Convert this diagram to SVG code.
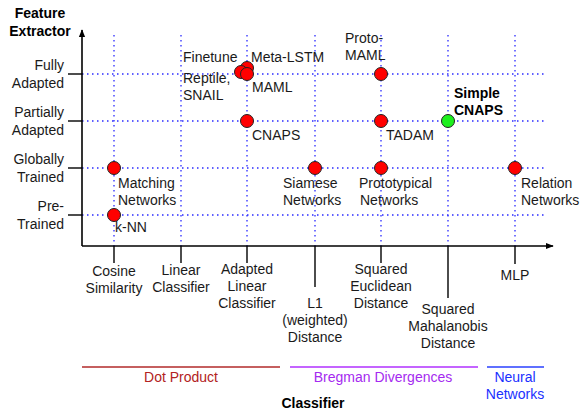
<svg xmlns="http://www.w3.org/2000/svg" width="582" height="413" viewBox="0 0 582 413">
<style>
text{font-family:"Liberation Sans",Arial,sans-serif;font-size:14px;fill:#1a1a1a}
.b{font-weight:bold;fill:#000}
.m{text-anchor:middle}
.e{text-anchor:end}
.grid line{stroke:#2a2aff;stroke-width:1.3;stroke-dasharray:1.5 3.5}
.axis{stroke:#000;stroke-width:1.6;fill:none}
.tick{stroke:#000;stroke-width:1.4}
.dot{fill:#f00;stroke:#222;stroke-width:1}
.green{fill:#1ef01e;stroke:#222;stroke-width:1}
</style>
<defs>
<marker id="ah" viewBox="0 0 10 10" refX="9" refY="5" markerWidth="8" markerHeight="8" markerUnits="userSpaceOnUse" orient="auto">
<path d="M0,1 L10,5 L0,9 Z" fill="#000"/>
</marker>
</defs>
<rect width="582" height="413" fill="#fff"/>
<g id="grid" class="grid">
<line x1="82" y1="74" x2="546" y2="74"/>
<line x1="82" y1="121" x2="546" y2="121"/>
<line x1="82" y1="168" x2="546" y2="168"/>
<line x1="82" y1="215" x2="546" y2="215"/>
<line x1="114" y1="35" x2="114" y2="246"/>
<line x1="181" y1="35" x2="181" y2="246"/>
<line x1="247" y1="35" x2="247" y2="246"/>
<line x1="315" y1="35" x2="315" y2="246"/>
<line x1="381" y1="35" x2="381" y2="246"/>
<line x1="448" y1="35" x2="448" y2="246"/>
<line x1="515" y1="35" x2="515" y2="246"/>
</g>
<g id="axes">
<line class="axis" x1="82" y1="246" x2="82" y2="30" marker-end="url(#ah)"/>
<line class="axis" x1="82" y1="246" x2="553" y2="246" marker-end="url(#ah)"/>
<line class="tick" x1="68" y1="74" x2="82" y2="74"/>
<line class="tick" x1="68" y1="121" x2="82" y2="121"/>
<line class="tick" x1="68" y1="168" x2="82" y2="168"/>
<line class="tick" x1="68" y1="215" x2="82" y2="215"/>
<line class="tick" x1="114" y1="246" x2="114" y2="263"/>
<line class="tick" x1="181" y1="246" x2="181" y2="263"/>
<line class="tick" x1="247" y1="246" x2="247" y2="263"/>
<line class="tick" x1="315" y1="246" x2="315" y2="287"/>
<line class="tick" x1="381" y1="246" x2="381" y2="263"/>
<line class="tick" x1="448" y1="246" x2="448" y2="298"/>
<line class="tick" x1="515" y1="246" x2="515" y2="264"/>
</g>
<g id="axis-labels">
<text class="b m" x="40" y="18">Feature</text>
<text class="b m" x="40" y="36">Extractor</text>
<text class="e" x="64" y="70">Fully</text>
<text class="e" x="64" y="88">Adapted</text>
<text class="e" x="64" y="117">Partially</text>
<text class="e" x="64" y="135">Adapted</text>
<text class="e" x="64" y="164">Globally</text>
<text class="e" x="64" y="182">Trained</text>
<text class="e" x="64" y="211">Pre-</text>
<text class="e" x="64" y="229">Trained</text>
<text class="m" x="114" y="276">Cosine</text>
<text class="m" x="114" y="293">Similarity</text>
<text class="m" x="181" y="275">Linear</text>
<text class="m" x="181" y="292">Classifier</text>
<text class="m" x="247" y="274">Adapted</text>
<text class="m" x="247" y="291">Linear</text>
<text class="m" x="247" y="308">Classifier</text>
<text class="m" x="315" y="308">L1</text>
<text class="m" x="315" y="325">(weighted)</text>
<text class="m" x="315" y="342">Distance</text>
<text class="m" x="381" y="274">Squared</text>
<text class="m" x="381" y="291">Euclidean</text>
<text class="m" x="381" y="308">Distance</text>
<text class="m" x="448" y="314">Squared</text>
<text class="m" x="448" y="331">Mahalanobis</text>
<text class="m" x="448" y="348">Distance</text>
<text class="m" x="515" y="280">MLP</text>
<text class="b m" x="313" y="408">Classifier</text>
</g>
<g id="groups">
<line x1="82" y1="367" x2="280" y2="367" stroke="#b22a2a" stroke-width="1.5"/>
<text class="m" x="181" y="382" style="fill:#b22222">Dot Product</text>
<line x1="290" y1="367" x2="478" y2="367" stroke="#b030ff" stroke-width="1.5"/>
<text class="m" x="383" y="382" style="fill:#a52af0">Bregman Divergences</text>
<line x1="487" y1="367" x2="544" y2="367" stroke="#2a40ff" stroke-width="1.5"/>
<text class="m" x="515" y="382" style="fill:#1a30ff">Neural</text>
<text class="m" x="515" y="399" style="fill:#1a30ff">Networks</text>
</g>
<g id="n-matching"><circle class="dot" cx="114" cy="168" r="6.5"/><text x="118" y="188">Matching</text><text x="118" y="205">Networks</text></g>
<g id="n-knn"><circle class="dot" cx="114" cy="215" r="6.5"/><text x="115" y="232">k-NN</text></g>
<g id="n-fully">
<circle class="dot" cx="247" cy="68" r="6.5"/>
<circle class="dot" cx="241" cy="72" r="6.5"/>
<circle class="dot" cx="247" cy="74" r="6.5"/>
<text x="183" y="62">Finetune</text>
<text x="251" y="62">Meta-LSTM</text>
<text x="183" y="83">Reptile,</text>
<text x="183" y="100">SNAIL</text>
<text x="252" y="92">MAML</text>
</g>
<g id="n-cnaps"><circle class="dot" cx="247" cy="121" r="6.5"/><text x="252" y="140">CNAPS</text></g>
<g id="n-protomaml"><circle class="dot" cx="381" cy="74" r="6.5"/><text x="345" y="43">Proto-</text><text x="345" y="60">MAML</text></g>
<g id="n-tadam"><circle class="dot" cx="381" cy="121" r="6.5"/><text x="386" y="140">TADAM</text></g>
<g id="n-simplecnaps"><circle class="green" cx="448" cy="121" r="6.5"/><text class="b" x="454" y="98">Simple</text><text class="b" x="454" y="115">CNAPS</text></g>
<g id="n-siamese"><circle class="dot" cx="315" cy="168" r="6.5"/><text x="283" y="188">Siamese</text><text x="283" y="205">Networks</text></g>
<g id="n-prototypical"><circle class="dot" cx="381" cy="168" r="6.5"/><text x="359" y="188">Prototypical</text><text x="360" y="205">Networks</text></g>
<g id="n-relation"><circle class="dot" cx="515" cy="168" r="6.5"/><text x="521" y="188">Relation</text><text x="521" y="205">Networks</text></g>
</svg>
